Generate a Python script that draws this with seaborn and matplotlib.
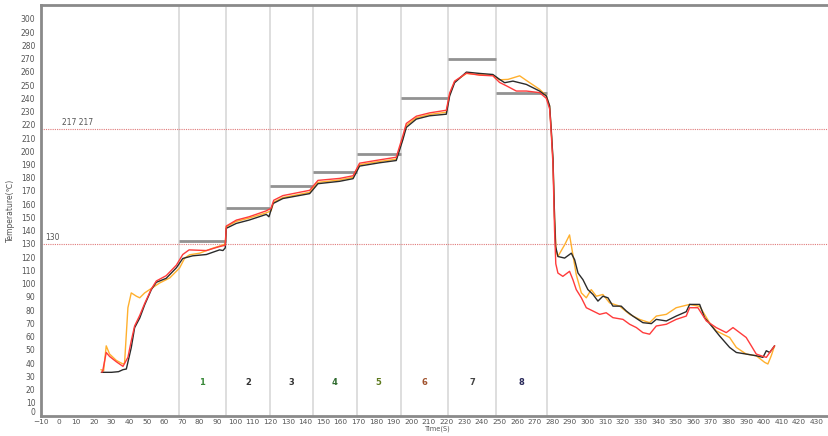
import matplotlib
matplotlib.use("Agg")
import matplotlib.pyplot as plt
import matplotlib.transforms as mtransforms
import seaborn as sns

# Profile readings: time (s) and temperature (℃) for three thermocouples
black_t = [24.2, 30, 34, 36.5, 38.4, 41.2, 43.1, 46, 48.8, 52.6, 55.4, 61, 66.8, 70.4, 76, 83.8,
           91.3, 93.2, 94.5, 95.1, 100.8, 108, 117.8, 119.3, 121.6, 127.2, 142.4, 147.1, 159.4,
           167, 170.7, 182, 191.5, 195.3, 197.2, 202.9, 210.4, 219.9, 221.8, 224.6, 231.3, 238.8,
           246.3, 250.1, 253, 257.7, 265.3, 272.8, 276.6, 278.5, 279.4, 280.4, 281.3, 281.9,
           283.2, 287, 290.8, 292.7, 294.6, 297.4, 300.2, 303.1, 305.9, 308.7, 311.6, 314.4,
           319.1, 322, 325.7, 331.4, 336.2, 339, 344.7, 350.3, 356, 357.9, 363.6, 366.4, 371.1,
           374.9, 380.6, 384.4, 390, 395.7, 399.5, 401.4, 403.3, 406.1]
black_v = [33, 33, 33.5, 35, 35.5, 51.7, 66.7, 74, 84, 95.5, 101, 104, 112, 119, 121, 122,
           125.5, 125, 127, 141.8, 145.5, 148, 152.3, 150.5, 160.5, 164.3, 168, 175.5, 177.3,
           179.3, 188.8, 191.3, 193, 209, 218, 224.3, 226.8, 228, 241.8, 251.8, 259.8, 258.8,
           258, 254.3, 251.8, 253, 250.5, 245.5, 241.8, 234.3, 216.8, 194.3, 150, 128,
           120.5, 119.3, 123, 118, 108, 103, 95.5, 91.8, 86.8, 90.5, 89.3, 83,
           83, 79.3, 75.5, 70.5, 69.8, 73, 71.8, 75.5, 78.8, 84.3, 84.3, 74.3, 66.8,
           60.5, 51.8, 48, 46.8, 45.5, 44.3, 49.3, 48, 53]

red_t = [24.5, 25, 27, 28.9, 32.7, 36.5, 39.3, 41.2, 43.1, 46, 48.8, 52.6, 55.4, 61, 66.8, 70.4,
         74, 83.8, 91.3, 94.5, 95.1, 100.8, 108, 117.8, 120.5, 122, 127.2, 142.4, 147.1, 159.4,
         167, 170.7, 182, 191.5, 195.3, 197.2, 202.9, 210.4, 219.9, 221.8, 224.6, 231.3, 238.8,
         246.3, 250.1, 253.9, 259.6, 265.3, 272.8, 276.6, 278.5, 279.4, 280.4, 281.3, 282,
         283.2, 286, 289.8, 291.7, 293.6, 296.5, 299.3, 303.1, 306.9, 310.6, 314.4, 320.1,
         323.9, 327.7, 331.4, 335.2, 339, 344.7, 350.3, 356, 357.9, 362.6, 367.4, 373, 378.7,
         382.5, 386.3, 390, 392.9, 395.7, 398.5, 401.4, 406.1]
red_v = [33, 34, 48, 45, 41, 37.5, 44.3, 56.8, 68, 76, 85, 96, 102, 106, 114, 122,
         125.5, 125, 128, 129, 143.5, 148, 150.5, 155, 157, 163, 166.5, 170.5, 178, 179.5,
         181.5, 191, 193.5, 195.5, 212, 221, 226.5, 229, 231, 244, 253, 259, 257.5,
         257, 252, 249.5, 245.5, 245.5, 244.3, 240, 232, 214, 190, 140, 115,
         108, 105.5, 109.3, 103, 95.5, 89.3, 81.8, 79.3, 76.8, 78, 74.3, 73,
         69.3, 66.8, 63, 61.8, 68, 69.3, 73, 75.5, 81.8, 81.8, 71.8, 66.8, 63,
         66.8, 63, 59.3, 53, 46.8, 45.5, 44.3, 53]

orange_t = [24, 25.5, 27, 28.9, 32.7, 36.5, 37.4, 39.3, 41.2, 44.1, 46, 48.8, 51.6, 57.3, 63,
            68.6, 71.5, 74.3, 80, 87.5, 92.3, 94.5, 95.1, 100.8, 108, 117.8, 120.5, 122, 127.2,
            142.4, 147.1, 159.4, 167, 170.7, 182, 191.5, 195.3, 197.2, 202.9, 210.4, 219.9,
            221.8, 224.6, 231.3, 238.8, 246.3, 250.1, 254.9, 261.5, 267.2, 272.8, 276.6, 278.5,
            279.4, 280.4, 281.3, 282.2, 283.2, 287, 289.8, 291.7, 293.6, 296.5, 299.3, 302.1,
            305, 308.7, 312.5, 318.2, 323.9, 329.5, 335.2, 339, 344.7, 350.3, 357.9, 363.6,
            369.2, 373, 376.8, 380.6, 384.4, 390, 395.7, 400.5, 402.3, 404.2, 406.1]
orange_v = [35, 34, 53, 46.8, 42, 39.3, 40, 81.8, 93, 90.5, 89.3, 93, 95.5, 100.5, 104.3,
            111.8, 119.3, 121.8, 123, 126.8, 128.8, 130, 143, 147, 149.5, 153.5, 155, 161.5, 165,
            169, 176.5, 178.3, 180.3, 189.8, 192.3, 194, 210, 219.5, 225.3, 227.8, 229.5,
            243, 252.5, 258.8, 257.8, 257.5, 254, 254.3, 257, 251.8, 246.8, 242, 234,
            216, 193, 150, 125, 120.5, 129.3, 136.8, 121.8, 106.8, 93, 89.3, 95.5,
            90.5, 91.8, 85.5, 83, 76.8, 73, 70.5, 75.5, 76.8, 81.8, 84.3, 82.8,
            70.5, 64.3, 61.8, 59.3, 51.8, 46.8, 45.5, 40.5, 39.3, 45.5, 53]

# Oven zones: boundaries, setpoints and labels
zone_edges = [68, 95, 120, 144, 169, 194, 221, 248, 277]
zone_setpoints = [132, 157, 174, 184, 198, 240, 270, 244]
zone_labels = ["1", "2", "3", "4", "5", "6", "7", "8"]
zone_label_colors = ["#3a8a3a", "#333333", "#333333", "#2f6b2f", "#5e7a1e",
                     "#a0522d", "#444444", "#2a2a5a"]
zone_label_level = 25

# Reference temperature limits
limit_levels = [217, 130]
limit_texts = ["217 217", "130"]
limit_text_x = [2, -7.5]

x_ticks = list(range(-10, 431, 10))
y_ticks = list(range(0, 301, 10))

sns.set_style("white")
plt.rcParams["font.family"] = ["DejaVu Sans"]

W, H = 829, 436
AX_LEFT, AX_TOP, AX_BOTTOM = 41, 5, 416
fig = plt.figure(figsize=(W / 100, H / 100), dpi=100)
ax = fig.add_axes([AX_LEFT / W, (H - AX_BOTTOM) / H, 450 * 1.763 / W, (AX_BOTTOM - AX_TOP) / H])

# zone dividers
for xe in zone_edges:
    ax.axvline(xe, color="#d8d8d8", lw=1.2, zorder=1)

# zone setpoint bars
ax.hlines(zone_setpoints, zone_edges[:-1], zone_edges[1:], color="#929292", lw=2, zorder=2)

# limit lines
for lv, txt, tx in zip(limit_levels, limit_texts, limit_text_x):
    ax.axhline(lv, color="#e07a7a", lw=0.8, ls=(0, (1, 1)), zorder=2)
    ax.text(tx, lv + 1.5, txt, fontsize=5.5, color="#555555", va="bottom", ha="left")

# zone numbers
for i, lab in enumerate(zone_labels):
    xc = (zone_edges[i] + zone_edges[i + 1]) / 2
    ax.text(xc, zone_label_level, lab, fontsize=6, fontweight="bold",
            color=zone_label_colors[i], ha="center", va="center")

# temperature profiles
sns.lineplot(x=orange_t, y=orange_v, color="#ffb02e", lw=1, estimator=None, ax=ax, zorder=3)
sns.lineplot(x=black_t, y=black_v, color="#2b2b2b", lw=1, estimator=None, ax=ax, zorder=4)
sns.lineplot(x=red_t, y=red_v, color="#ff3b3b", lw=1, estimator=None, ax=ax, zorder=5)

ax.set_xlim(-10, 440)
ax.set_ylim(0, 310.5)
ax.set_xticks(x_ticks)
ax.set_yticks(y_ticks)
ax.tick_params(axis="y", labelsize=5.5, labelcolor="#555555", color="#777777",
               length=2.5, width=0.8, pad=1.5, direction="out")
ax.tick_params(axis="x", labelsize=5.3, labelcolor="#555555", color="#777777",
               length=2, width=0.8, pad=0.5, direction="out")

for side in ["left", "bottom", "top"]:
    ax.spines[side].set_color("#8a8a8a")
    ax.spines[side].set_linewidth(2)
ax.spines["right"].set_visible(False)

ax.set_ylabel("Temperature(℃)", fontsize=5.5, color="#555555")
ax.yaxis.set_label_coords(-0.033, 0.5)
ax.set_xlabel("Time(S)", fontsize=4.8, color="#555555")

# keep the corner labels apart: lift the zero temperature label a little
zero_lab = ax.get_yticklabels()[0]
zero_lab.set_transform(zero_lab.get_transform() +
                       mtransforms.ScaledTranslation(0, 3.5 / 72, fig.dpi_scale_trans))

# place the axis title just under the tick labels
fig.canvas.draw()
renderer = fig.canvas.get_renderer()
tick_floor = min(t.get_window_extent(renderer).y0 for t in ax.get_xticklabels())
ax_box = ax.get_window_extent(renderer)
ax.xaxis.set_label_coords((438 - AX_LEFT) / (450 * 1.763),
                          (tick_floor - 0.5 - ax_box.y0) / ax_box.height)

fig.savefig("out.png", dpi=100)
